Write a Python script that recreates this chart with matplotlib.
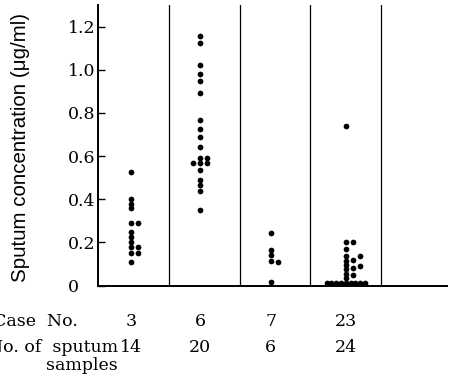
import numpy as np
import matplotlib
matplotlib.use("Agg")
import matplotlib.pyplot as plt
import matplotlib.transforms as mtransforms

# case labels and sample counts
case_no = ["3", "6", "7", "23"]
n_samples = ["14", "20", "6", "24"]
centers = [0.47, 1.44, 2.44, 3.50]

# sputum concentrations (ug/ml), split by dot column within each case
case3_mid = [0.527, 0.40, 0.38, 0.36, 0.29, 0.25, 0.225, 0.20, 0.18, 0.15, 0.11]
case3_right = [0.29, 0.18, 0.15]

case6_mid = [1.157, 1.126, 1.024, 0.982, 0.948, 0.893, 0.766, 0.723, 0.686,
             0.643, 0.589, 0.566, 0.535, 0.488, 0.465, 0.439, 0.350]
case6_right = [0.589, 0.566]
case6_left = [0.566]

case7_mid = [0.245, 0.165, 0.14, 0.115, 0.018]
case7_right = [0.11]

case23_mid = [0.738, 0.20, 0.168, 0.137, 0.115, 0.095, 0.075, 0.053, 0.033]
case23_right = [0.20, 0.12, 0.08, 0.05]
case23_right2 = [0.137, 0.09]
case23_floor = [0.01] * 9

yticks = [0, 0.2, 0.4, 0.6, 0.8, 1.0, 1.2]

W, H = 456, 376
fig = plt.figure(figsize=(W / 100, H / 100), dpi=100)
ax = fig.add_axes([98 / W, (H - 285.5) / H, (447 - 98) / W, (285.5 - 5) / H])

step = 0.1
dot = dict(s=17, color="black", linewidths=0, zorder=3)

groups = [
    (0, [(0, case3_mid), (1, case3_right)]),
    (1, [(0, case6_mid), (1, case6_right), (-1, case6_left)]),
    (2, [(0, case7_mid), (1, case7_right)]),
    (3, [(0, case23_mid), (1, case23_right), (2, case23_right2)]),
]
for gi, cols in groups:
    for k, vals in cols:
        ax.scatter([centers[gi] + k * step] * len(vals), vals, **dot)

# bottom row of case 23 spread sideways
offs = (np.arange(len(case23_floor)) - (len(case23_floor) - 1) / 2) * 0.068
ax.scatter(centers[3] + offs, case23_floor, **dot)

for xd in [1, 2, 3, 4]:
    ax.axvline(xd, color="black", lw=0.9, zorder=1)

ax.set_xlim(0, 4.93)
ax.set_ylim(0, 1.30)
ax.set_xticks([])
ax.set_yticks(yticks)
ax.set_yticklabels(["0", "0.2", "0.4", "0.6", "0.8", "1.0", "1.2"],
                   family="DejaVu Serif", fontsize=12.5)
for lab in ax.get_yticklabels():
    lab.set_horizontalalignment("left")
ax.tick_params(axis="y", direction="in", length=5, width=1, pad=22)
for s in ["top", "right"]:
    ax.spines[s].set_visible(False)
for s in ["left", "bottom"]:
    ax.spines[s].set_linewidth(1.4)

fig.text(21 / W, 1 - 147 / H, "Sputum concentration (\u03bcg/ml)", rotation=90,
         ha="center", va="center", family="Liberation Sans", fontsize=14.8)

trans = mtransforms.blended_transform_factory(ax.transData, fig.transFigure)
row1 = 1 - 322 / H
row2 = 1 - 348 / H
for c, a, b in zip(centers, case_no, n_samples):
    ax.text(c, row1, a, transform=trans, ha="center", va="center",
            family="DejaVu Serif", fontsize=12.5)
    ax.text(c, row2, b, transform=trans, ha="center", va="center",
            family="DejaVu Serif", fontsize=12.5)

fig.text(78 / W, row1, "Case  No.", ha="right", va="center",
         family="DejaVu Serif", fontsize=12.5)
fig.text(118 / W, row2, "No. of  sputum", ha="right", va="center",
         family="DejaVu Serif", fontsize=12.5)
fig.text(118 / W, 1 - 366 / H, "samples", ha="right", va="center",
         family="DejaVu Serif", fontsize=12.5)

fig.savefig("out.png", dpi=100)
